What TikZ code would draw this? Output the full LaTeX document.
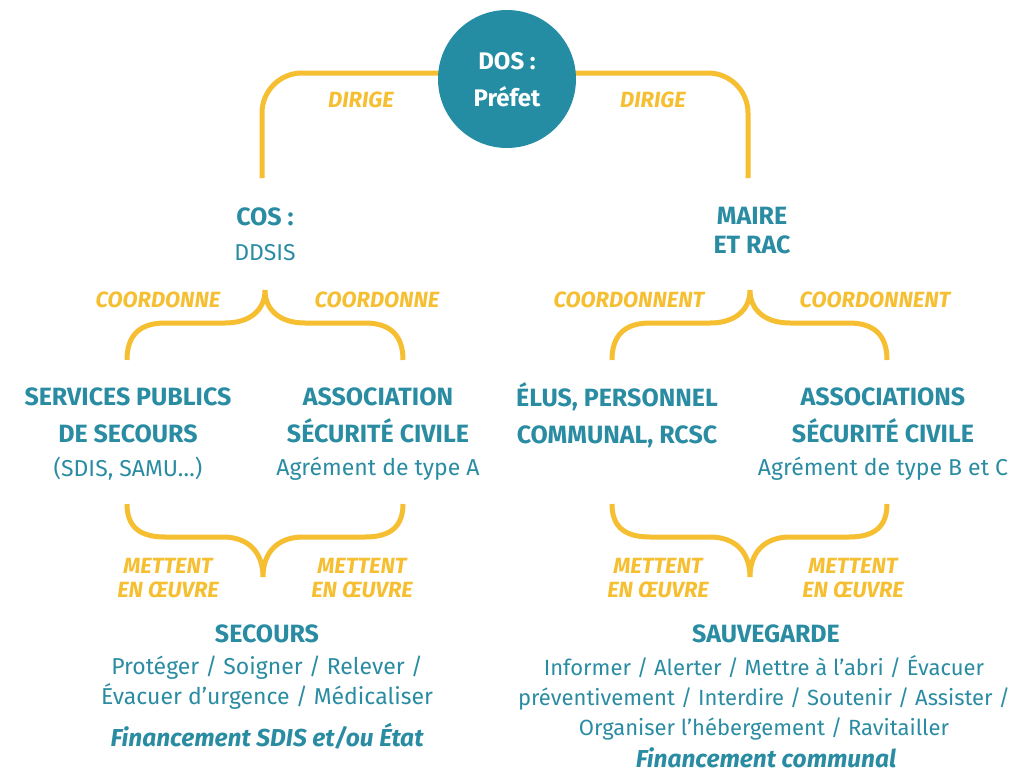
\documentclass[tikz,border=0pt]{standalone}
\usepackage{fontspec}
\setmainfont{Fira Sans}
\definecolor{teal}{HTML}{258DA3}
\definecolor{txt}{HTML}{2A8CA2}
\definecolor{gold}{HTML}{F6BF32}
\begin{document}
\begin{tikzpicture}[x=1pt,y=-1pt,
  conn/.style={draw=gold,line width=5pt},
  head/.style={text=txt,font=\fontsize{25}{37}\selectfont\bfseries,align=center,inner sep=0pt},
  body/.style={text=txt,font=\fontsize{23}{30}\selectfont,align=center,inner sep=0pt},
  verb/.style={text=gold,font=\fontsize{22}{24}\selectfont\bfseries\itshape,align=center,inner sep=0pt},
  fin/.style={text=txt,font=\fontsize{24.5}{30}\selectfont\bfseries\itshape,align=center,inner sep=0pt}]
\useasboundingbox (0,0) rectangle (1018,774);
% coordinates for connectors
\coordinate (lt) at (262,178);
\coordinate (rt) at (748,178);
\coordinate (topc) at (507,73);
% top connector
\draw[conn,rounded corners=40pt] (lt) |- (topc) -| (rt);
\node[circle,fill=teal,minimum size=138pt,inner sep=0pt] (dos) at (507,79) {};
\node[text=white,font=\fontsize{24}{37}\selectfont\bfseries,align=center,inner sep=0pt] (dost) at (507,80) {DOS :\\Préfet};
\node[verb] (d1) at (361,100) {DIRIGE};
\node[verb] (d2) at (653,100) {DIRIGE};
% second level
\node[head] (cos) at (265,217) {COS :};
\node[body] (ddsis) at (265,253) {DDSIS};
\node[head,font=\fontsize{25}{29}\selectfont\bfseries] (maire) at (752,231) {MAIRE\\ET RAC};
% top braces
\coordinate (b1) at (265,290);
\coordinate (b2) at (750,290);
\draw[conn] (127,360) .. controls (127,335) and (140,323) .. (165,323) -- (225,323) .. controls (250,323) and (265,310) .. (b1)
  .. controls (265,310) and (280,323) .. (305,323) -- (365,323) .. controls (390,323) and (403,335) .. (403,360);
\draw[conn] (612,360) .. controls (612,335) and (625,323) .. (650,323) -- (710,323) .. controls (735,323) and (750,310) .. (b2)
  .. controls (750,310) and (765,323) .. (790,323) -- (849,323) .. controls (874,323) and (887,335) .. (887,360);
\node[verb] (c1) at (158,300) {COORDONNE};
\node[verb] (c2) at (377,300) {COORDONNE};
\node[verb] (c3) at (629,300) {COORDONNENT};
\node[verb] (c4) at (875,300) {COORDONNENT};
% third level
\node[head] (spub) at (128,415) {SERVICES PUBLICS\\DE SECOURS};
\node[body] (spub2) at (128,469) {(SDIS, SAMU…)};
\node[head] (asc) at (378,415) {ASSOCIATION\\SÉCURITÉ CIVILE};
\node[body] (asc2) at (378,469) {Agrément de type A};
\node[head] (elus) at (617,415) {ÉLUS, PERSONNEL\\COMMUNAL, RCSC};
\node[head] (ascs) at (883,415) {ASSOCIATIONS\\SÉCURITÉ CIVILE};
\node[body] (ascs2) at (883,469) {Agrément de type B et C};
% bottom braces
\coordinate (t1) at (263,577);
\coordinate (t2) at (750,577);
\draw[conn] (127,504) .. controls (127,527) and (140,537) .. (165,537) -- (223,537) .. controls (248,537) and (263,552) .. (t1)
  .. controls (263,552) and (278,537) .. (303,537) -- (365,537) .. controls (390,537) and (403,527) .. (403,504);
\draw[conn] (612,504) .. controls (612,527) and (625,537) .. (650,537) -- (710,537) .. controls (735,537) and (750,552) .. (t2)
  .. controls (750,552) and (765,537) .. (790,537) -- (849,537) .. controls (874,537) and (887,527) .. (887,504);
\node[verb] (m1) at (168,578) {METTENT\\EN ŒUVRE};
\node[verb] (m2) at (362,578) {METTENT\\EN ŒUVRE};
\node[verb] (m3) at (658,578) {METTENT\\EN ŒUVRE};
\node[verb] (m4) at (853,578) {METTENT\\EN ŒUVRE};
% bottom
\node[head] (sec) at (267,634) {SECOURS};
\node[body] (sec2) at (267,683) {Protéger / Soigner / Relever /\\Évacuer d’urgence / Médicaliser};
\node[fin] (sec3) at (267,736) {Financement SDIS et/ou État};
\node[head] (sauv) at (766,634) {SAUVEGARDE};
\node[body,font=\fontsize{22}{30}\selectfont] (sauv2) at (764,698) {Informer / Alerter / Mettre à l’abri / Évacuer\\préventivement / Interdire / Soutenir / Assister /\\Organiser l’hébergement / Ravitailler};
\node[fin] (sauv3) at (766,758) {Financement communal};
\end{tikzpicture}
\end{document}
